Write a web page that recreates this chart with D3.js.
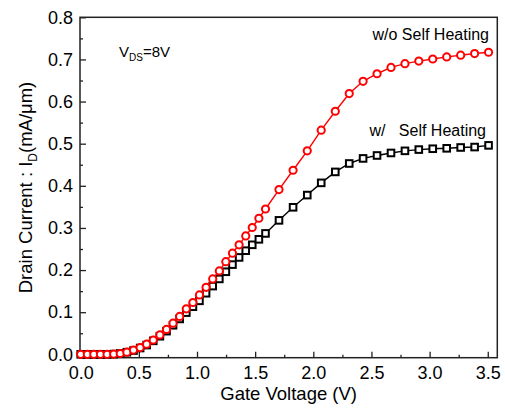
<!DOCTYPE html>
<html>
<head>
<meta charset="utf-8">
<script src="https://cdn.jsdelivr.net/npm/d3@7"></script>
<style>
  body { margin: 0; background: #fff; }
  text { font-family: "Liberation Sans", Arial, sans-serif; fill: #000; }
</style>
</head>
<body>
<div id="chart"></div>
<script>
// gate voltage (V), same grid for both curves
var vg = [0, 0.057, 0.113, 0.170, 0.227, 0.284, 0.340, 0.397, 0.454, 0.511,
          0.567, 0.624, 0.681, 0.738, 0.794, 0.851, 0.908, 0.965, 1.021, 1.078,
          1.135, 1.192, 1.248, 1.305, 1.362, 1.419, 1.475, 1.532, 1.589, 1.705,
          1.826, 1.948, 2.068, 2.189, 2.309, 2.428, 2.548, 2.668, 2.788, 2.907,
          3.027, 3.147, 3.267, 3.387, 3.507];
// drain current (mA/um) without self heating
var id_noSH = [0, 0, 0, 0, 0, 0.0005, 0.002, 0.005, 0.010, 0.016,
               0.024, 0.034, 0.046, 0.059, 0.074, 0.090, 0.108, 0.123, 0.141, 0.159,
               0.179, 0.198, 0.220, 0.240, 0.260, 0.281, 0.301, 0.323, 0.345, 0.391,
               0.437, 0.483, 0.532, 0.577, 0.619, 0.648, 0.666, 0.681, 0.690, 0.696,
               0.701, 0.706, 0.710, 0.714, 0.717];
// drain current (mA/um) with self heating
var id_SH = [0, 0, 0, 0, 0, 0.0005, 0.002, 0.005, 0.009, 0.015,
             0.022, 0.032, 0.043, 0.055, 0.069, 0.084, 0.099, 0.113, 0.127, 0.145,
             0.162, 0.179, 0.196, 0.213, 0.230, 0.246, 0.260, 0.273, 0.287, 0.318,
             0.349, 0.378, 0.407, 0.433, 0.453, 0.465, 0.472, 0.478, 0.483, 0.486,
             0.488, 0.489, 0.491, 0.492, 0.496];
var xTicks = [0, 0.5, 1.0, 1.5, 2.0, 2.5, 3.0, 3.5];
var xMinor = [0.25, 0.75, 1.25, 1.75, 2.25, 2.75, 3.25];
var yTicks = [0, 0.1, 0.2, 0.3, 0.4, 0.5, 0.6, 0.7, 0.8];
var yMinor = [0.05, 0.15, 0.25, 0.35, 0.45, 0.55, 0.65, 0.75];

var width = 505, height = 409;
var plotL = 80, plotR = 497.3, plotT = 17.3, plotB = 357.7;

var svg = d3.select("#chart").append("svg")
    .attr("width", width)
    .attr("height", height);

var x = d3.scaleLinear().domain([-0.006, 3.582]).range([plotL, plotR]);
var y = d3.scaleLinear().domain([-0.008, 0.8]).range([plotB, plotT]);

var axisColor = "#222";

// minor ticks
svg.append("g")
    .attr("transform", "translate(0," + plotB + ")")
    .call(d3.axisBottom(x).tickValues(xMinor).tickSizeInner(-3).tickSizeOuter(0).tickFormat(""))
    .call(function(g){ g.select(".domain").remove(); g.selectAll("line").attr("stroke", axisColor).attr("stroke-width", 1.3); });
svg.append("g")
    .attr("transform", "translate(" + plotL + ",0)")
    .call(d3.axisLeft(y).tickValues(yMinor).tickSizeInner(-3).tickSizeOuter(0).tickFormat(""))
    .call(function(g){ g.select(".domain").remove(); g.selectAll("line").attr("stroke", axisColor).attr("stroke-width", 1.3); });

// major axes
var gx = svg.append("g")
    .attr("transform", "translate(0," + plotB + ")")
    .call(d3.axisBottom(x).tickValues(xTicks).tickSizeInner(-6).tickSizeOuter(0)
          .tickPadding(9).tickFormat(d3.format(".1f")));
var gy = svg.append("g")
    .attr("transform", "translate(" + plotL + ",0)")
    .call(d3.axisLeft(y).tickValues(yTicks).tickSizeInner(-6).tickSizeOuter(0)
          .tickPadding(7).tickFormat(d3.format(".1f")));
[gx, gy].forEach(function(g){
  g.select(".domain").remove();
  g.selectAll("line").attr("stroke", axisColor).attr("stroke-width", 1.3);
  g.selectAll("text").style("font-size", "18px").attr("fill", "#000")
    .style("font-family", "'Liberation Sans', Arial, sans-serif");
});

// frame
svg.append("rect")
    .attr("x", plotL).attr("y", plotT)
    .attr("width", plotR - plotL).attr("height", plotB - plotT)
    .attr("fill", "none").attr("stroke", axisColor).attr("stroke-width", 1.5);

// axis titles
svg.append("text")
    .attr("x", (plotL + plotR) / 2).attr("y", 400)
    .attr("text-anchor", "middle")
    .style("font-size", "18.5px")
    .text("Gate Voltage (V)");

var yt = svg.append("text")
    .attr("transform", "translate(31.5," + ((plotT + plotB) / 2) + ") rotate(-90)")
    .attr("text-anchor", "middle")
    .style("font-size", "18.5px");
yt.append("tspan").text("Drain Current : I");
yt.append("tspan").attr("dy", 5).style("font-size", "12px").text("D");
yt.append("tspan").attr("dy", -5).text("(mA/\u03bcm)");

// curves
var line = d3.line()
    .x(function(d){ return x(d[0]); })
    .y(function(d){ return y(d[1]); });

var dataSH = vg.map(function(v, i){ return [v, id_SH[i]]; });
var dataNoSH = vg.map(function(v, i){ return [v, id_noSH[i]]; });

svg.append("path")
    .datum(dataSH)
    .attr("d", line)
    .attr("fill", "none").attr("stroke", "#000").attr("stroke-width", 1.4);
svg.selectAll(".sq")
    .data(dataSH)
    .enter().append("rect")
    .attr("class", "sq")
    .attr("x", function(d){ return x(d[0]) - 3.3; })
    .attr("y", function(d){ return y(d[1]) - 3.3; })
    .attr("width", 6.6).attr("height", 6.6)
    .attr("fill", "#fff").attr("stroke", "#000").attr("stroke-width", 2);

svg.append("path")
    .datum(dataNoSH)
    .attr("d", line)
    .attr("fill", "none").attr("stroke", "#ff0000").attr("stroke-width", 1.4);
svg.selectAll(".ci")
    .data(dataNoSH)
    .enter().append("circle")
    .attr("class", "ci")
    .attr("cx", function(d){ return x(d[0]); })
    .attr("cy", function(d){ return y(d[1]); })
    .attr("r", 3.6)
    .attr("fill", "#fff").attr("stroke", "#ff0000").attr("stroke-width", 2);

// annotations
svg.append("text")
    .attr("x", 489).attr("y", 40)
    .attr("text-anchor", "end")
    .style("font-size", "16px")
    .text("w/o Self Heating");
svg.append("text")
    .attr("x", 486).attr("y", 136)
    .attr("text-anchor", "end")
    .style("font-size", "16px")
    .style("white-space", "pre")
    .text("w/   Self Heating");

var vds = svg.append("text")
    .attr("x", 119).attr("y", 57)
    .style("font-size", "15px");
vds.append("tspan").text("V");
vds.append("tspan").attr("dy", 4).style("font-size", "10px").text("DS");
vds.append("tspan").attr("dy", -4).text("=8V");
</script>
</body>
</html>
